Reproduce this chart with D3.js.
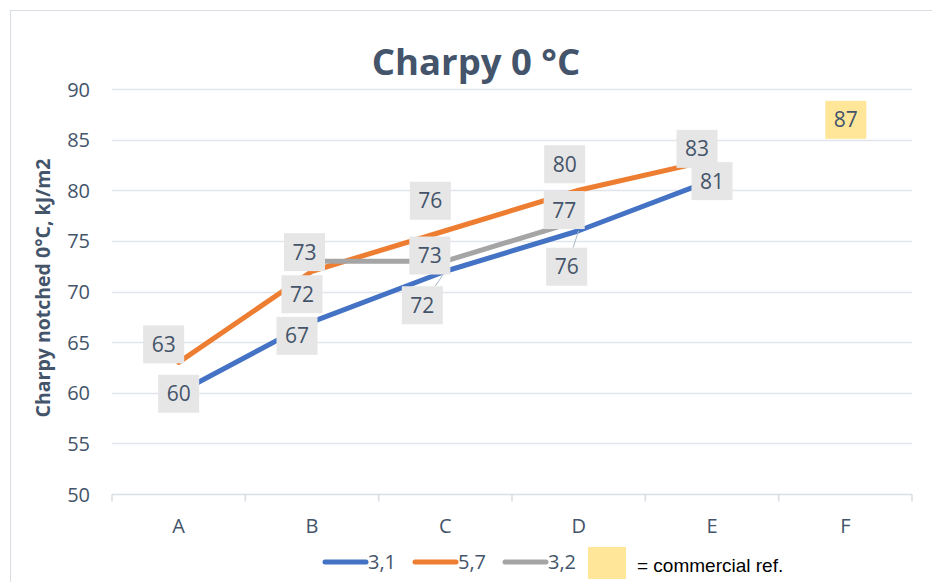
<!DOCTYPE html>
<html><head><meta charset="utf-8">
<script src="https://cdn.jsdelivr.net/npm/d3@7"></script>
<style>body{margin:0;background:#fff}svg{display:block}</style>
</head><body>
<svg id="c" width="932" height="582"></svg>
<script>
const categories = ["A","B","C","D","E","F"];
const yTicks = [50,55,60,65,70,75,80,85,90];
const seriesNames = ["3,1","5,7","3,2"];
const series31 = [60,67,72,76,81,null];
const series57 = [63,72,76,80,83,null];
const series32 = [null,73,73,77,null,null];
const commercialRef = [null,null,null,null,null,87];
const title = "Charpy 0 °C";
const yTitle = "Charpy notched 0°C, kJ/m2";
const legendRefText = "= commercial ref.";

// label nudges (layout only, pixels)
const nudges = {
  s31: [[0,1],[-15,14],[-23,34],[-12,36],[0,1]],
  s57: [[-15,-18],[-10,23],[-15,-30],[-14,-26],[-15,-11]],
  s32: [[0,0],[-7.5,-9],[-15.5,-5.6],[-14.5,-10.6]],
  ref: [[0,0],[0,0],[0,0],[0,0],[0,0],[0.5,0.5]]
};
const leaders = {s31:[false,false,true,true,false]};

const svg = d3.select("#c");
const L=112, R=912, T=89, B=494;
const x = d3.scaleBand().domain(categories).range([L,R]);
const cx = c => x(c) + x.bandwidth()/2;
const y = d3.scaleLinear().domain([50,90]).range([B,T]);
const textCol = "#44546A";
const font = "'Open Sans', sans-serif";

// chart border
svg.append("rect").attr("x",10.5).attr("y",10.5).attr("width",940).attr("height",600)
  .attr("fill","#fff").attr("stroke","#d9dde4").attr("stroke-width",1);

// title
svg.append("text").attr("x",476).attr("y",75).attr("text-anchor","middle")
  .attr("font-family",font).attr("font-weight","bold").attr("font-size",36.5)
  .attr("fill",textCol).text(title);

// gridlines
svg.append("g").selectAll("line").data(yTicks.filter(t=>t>50)).join("line")
  .attr("x1",L).attr("x2",R).attr("y1",d=>Math.round(y(d))+0.5).attr("y2",d=>Math.round(y(d))+0.5)
  .attr("stroke","#e1e5eb").attr("stroke-width",1.3);

// y axis labels
const yAxis = d3.axisLeft(y).tickValues(yTicks).tickSize(0).tickPadding(0);
const gy = svg.append("g").attr("transform",`translate(${L-22},0)`).call(yAxis);
gy.select(".domain").remove();
gy.selectAll("text").attr("font-family",font).attr("font-size",20).attr("fill",textCol).attr("dy","0.35em");

// x axis
const gx = svg.append("g").attr("transform",`translate(0,${Math.round(B)+0.5})`);
gx.append("line").attr("x1",L).attr("x2",R).attr("stroke","#d9dde4").attr("stroke-width",1.5);
const bounds = categories.map(c=>x(c)).concat([R]);
gx.selectAll("line.tk").data(bounds).join("line").attr("class","tk")
  .attr("x1",d=>d).attr("x2",d=>d).attr("y1",0).attr("y2",7)
  .attr("stroke","#d9dde4").attr("stroke-width",1.5);
gx.selectAll("text").data(categories).join("text")
  .attr("x",d=>cx(d)).attr("y",38).attr("text-anchor","middle")
  .attr("font-family",font).attr("font-size",20).attr("fill",textCol).text(d=>d);

// y title
svg.append("text").attr("transform","translate(50,288) rotate(-90)").attr("text-anchor","middle")
  .attr("font-family",font).attr("font-weight","bold").attr("font-size",19.5)
  .attr("fill",textCol).text(yTitle);

// lines
const colors = ["#4472C4","#ED7D31","#A5A5A5"];
const allSeries = [series31,series57,series32];
const line = d3.line().defined(d=>d.v!=null).x(d=>cx(d.c)).y(d=>y(d.v));
allSeries.forEach((s,i)=>{
  svg.append("path").datum(categories.map((c,j)=>({c,v:s[j]})))
    .attr("d",line).attr("fill","none").attr("stroke",colors[i]).attr("stroke-width",5)
    .attr("stroke-linecap","round").attr("stroke-linejoin","round");
});

// labels
const BW=41, BH=38;
function drawLabels(s,key,fill,lead){
  const g = svg.append("g");
  s.forEach((v,j)=>{
    if(v==null) return;
    const px=cx(categories[j]), py=y(v);
    const n=nudges[key][j]; const lx=px+n[0], ly=py+n[1];
    if(lead && lead[j]){
      const dx=px-lx, dy=py-ly;
      const t=Math.min(Math.abs((BW/2)/dx||Infinity),Math.abs((BH/2)/dy||Infinity));
      g.append("line").attr("x1",lx+dx*t).attr("y1",ly+dy*t).attr("x2",px).attr("y2",py)
        .attr("stroke","#a9b7cb").attr("stroke-width",1);
    }
    g.append("rect").attr("x",lx-BW/2).attr("y",ly-BH/2).attr("width",BW).attr("height",BH).attr("fill",fill);
    g.append("text").attr("x",lx).attr("y",ly).attr("dy","0.36em").attr("text-anchor","middle")
      .attr("font-family",font).attr("font-size",21).attr("fill",textCol).text(v);
  });
}
drawLabels(series31,"s31","#E7E6E6",leaders.s31);
drawLabels(series57,"s57","#E7E6E6");
drawLabels(series32,"s32","#E7E6E6");
drawLabels(commercialRef,"ref","#FFE699");

// legend
const lg = svg.append("g");
const legX=[323,413,503];
seriesNames.forEach((nm,i)=>{
  lg.append("line").attr("x1",legX[i]+2).attr("x2",legX[i]+43).attr("y1",562).attr("y2",562)
    .attr("stroke",colors[i]).attr("stroke-width",5).attr("stroke-linecap","round");
  lg.append("text").attr("x",legX[i]+45).attr("y",569).attr("font-family",font).attr("font-size",20)
    .attr("fill",textCol).text(nm);
});
lg.append("rect").attr("x",588).attr("y",547).attr("width",38).attr("height",32).attr("fill","#FFE699");
lg.append("text").attr("x",637).attr("y",572).attr("font-family","'Liberation Sans', Arial, sans-serif")
  .attr("font-size",19).attr("fill","#000").text(legendRefText);
</script>
</body></html>
